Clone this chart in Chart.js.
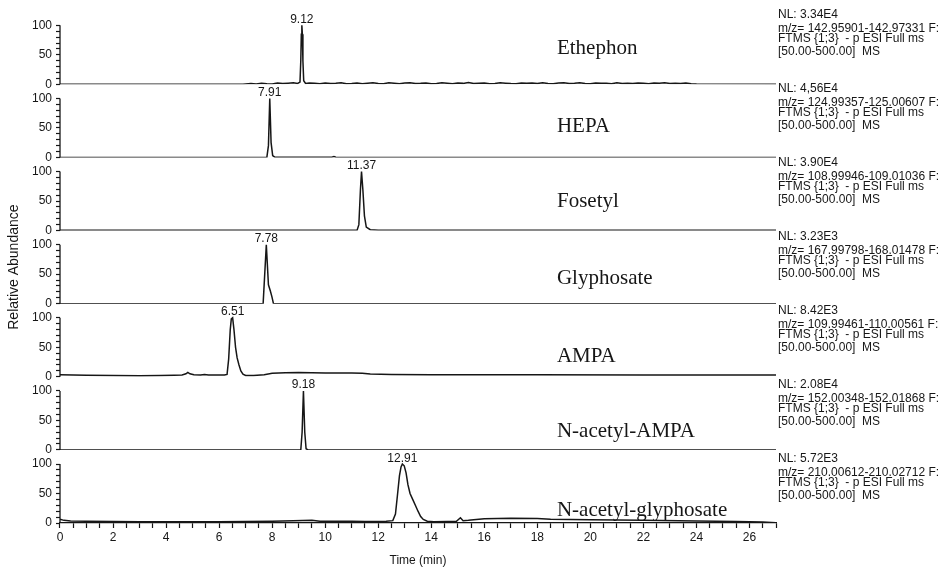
<!DOCTYPE html>
<html>
<head>
<meta charset="utf-8">
<title>Extracted ion chromatograms</title>
<script src="https://cdn.jsdelivr.net/npm/chart.js@4/dist/chart.umd.min.js"></script>
<style>
  html, body { margin: 0; padding: 0; background: #ffffff; }
  #wrap { position: relative; width: 946px; height: 568px; }
</style>
</head>
<body>
<div id="wrap"><canvas id="chrom" width="946" height="568"></canvas></div>
<script>
// ---- Data -------------------------------------------------------------
const compounds = ['Ethephon', 'HEPA', 'Fosetyl', 'Glyphosate', 'AMPA', 'N-acetyl-AMPA', 'N-acetyl-glyphosate'];
const peakTimes = [9.12, 7.91, 11.37, 7.78, 6.51, 9.18, 12.91];
const normLevels = ['NL: 3.34E4', 'NL: 4,56E4', 'NL: 3.90E4', 'NL: 3.23E3', 'NL: 8.42E3', 'NL: 2.08E4', 'NL: 5.72E3'];
const mzRanges = ['142.95901-142.97331', '124.99357-125.00607', '108.99946-109.01036', '167.99798-168.01478',
                  '109.99461-110.00561', '152.00348-152.01868', '210.00612-210.02712'];
const scanFilter = 'FTMS {1;3}  - p ESI Full ms';
const massRange = '[50.00-500.00]  MS';
const abundanceTicks = [0, 50, 100];
const timeLabelStep = 2;

// retention time (min) / relative abundance (%) for each trace
const ethephonTime = [0, 6.9, 7.0, 7.2, 7.4, 7.6, 7.8, 8.0, 8.2, 8.4, 8.6, 8.8, 8.96, 9.05, 9.08, 9.10, 9.12, 9.14, 9.16, 9.19, 9.26,
  9.4, 9.6, 9.8, 10.0, 10.2, 10.4, 10.6, 10.8, 11.0, 11.2, 11.4, 11.6, 11.8, 12.0, 12.2, 12.4, 12.6, 12.8, 13.0, 13.2,
  13.4, 13.6, 13.8, 14.0, 14.2, 14.4, 14.6, 14.8, 15.0, 15.2, 15.4, 15.6, 15.8, 16.0, 16.2, 16.4, 16.6, 16.8, 17.0,
  17.2, 17.4, 17.6, 17.8, 18.0, 18.2, 18.4, 18.6, 18.8, 19.0, 19.2, 19.4, 19.6, 19.8, 20.0, 20.2, 20.4, 20.6, 20.8,
  21.0, 21.2, 21.4, 21.6, 21.8, 22.0, 22.2, 22.4, 22.6, 22.8, 23.0, 23.2, 23.4, 23.6, 23.8, 24.0, 27];
const ethephonAbund = [0, 0, 0.5, 1.4, 0.7, 2.0, 1.1, 0.6, 2.3, 1.2, 1.9, 2.6, 1.5, 3.8, 40, 85, 100, 85, 40, 6, 1.4,
  2.2, 1.6, 0.9, 2.4, 1.3, 1.8, 2.7, 1.0, 1.5, 2.3, 0.8, 1.9, 2.6, 1.4, 1.1, 2.5, 1.7, 0.9,
  2.1, 2.8, 1.3, 1.6, 2.2, 0.8, 1.4, 2.6, 1.9, 1.1, 2.4, 1.6, 2.9, 1.2, 1.8, 2.3, 1.0, 1.5,
  2.7, 2.0, 1.2, 0.9, 2.4, 1.7, 2.2, 1.3, 2.8, 1.5, 1.0, 2.1, 2.5, 1.2, 1.8, 2.6, 1.4, 0.9,
  2.3, 1.6, 2.0, 1.1, 2.7, 1.5, 1.9, 1.2, 2.4, 1.7, 1.0, 2.2, 1.6, 2.5, 1.3, 2.0, 1.4, 2.3, 1.1,
  0.4, 0.2];

const hepaTime  = [0, 7.8, 7.86, 7.91, 7.96, 8.02, 8.1, 10.25, 10.33, 10.4, 27];
const hepaAbund = [0, 0, 20, 100, 25, 3, 0.5, 0.3, 1.6, 0.3, 0];

const fosetylTime  = [0, 11.2, 11.27, 11.33, 11.37, 11.42, 11.48, 11.55, 11.7, 12.0, 27];
const fosetylAbund = [0.3, 0.3, 10, 70, 100, 70, 25, 6, 1.5, 0.6, 0.3];

const glyphosateTime  = [0, 7.66, 7.78, 7.86, 7.93, 7.99, 8.05, 27];
const glyphosateAbund = [0, 0, 100, 32, 22, 12, 0, 0];

const ampaTime  = [0, 0.5, 1, 2, 3, 3.8, 4.3, 4.6, 4.75, 4.82, 4.9, 5.05, 5.3, 5.45, 5.6, 6.2, 6.3, 6.36, 6.42, 6.46,
  6.51, 6.56, 6.62, 6.68, 6.75, 6.82, 6.9, 7.0, 7.3, 7.7, 8.0, 8.5, 9.0, 9.5, 10, 11, 11.4, 11.7, 12.5, 14, 18, 22, 27];
const ampaAbund = [3.5, 2.8, 2.4, 2.0, 1.8, 2.0, 2.6, 3.2, 5, 7.5, 5, 3.5, 3.2, 4, 3.0, 3.0, 4, 30, 80, 98,
  100, 80, 50, 32, 20, 10, 4.5, 2.2, 2.2, 3.5, 6, 7, 7.3, 7, 6.5, 6.3, 6, 4.5, 3.8, 3.5, 3.3, 3.1, 3.0];

const acetylAmpaTime  = [0, 9.08, 9.13, 9.18, 9.23, 9.28, 9.35, 27];
const acetylAmpaAbund = [0, 0, 30, 100, 30, 2, 0, 0];

const acetylGlyTime  = [0, 0.15, 0.4, 1, 2, 3, 4, 5, 6, 7, 8, 8.8, 9.5, 9.8, 10.5, 11, 11.5, 12.3, 12.55, 12.65,
  12.72, 12.8, 12.86, 12.91, 12.98, 13.05, 13.12, 13.2, 13.3, 13.4, 13.5, 13.6, 13.7, 13.85, 14.1, 14.6, 14.95,
  15.1, 15.2, 15.4, 16, 17, 18, 18.5, 20, 22, 24, 25.5, 26.5, 27];
const acetylGlyAbund = [6.5, 4.5, 3.3, 2.8, 2.5, 2.3, 2.2, 2.2, 2.3, 2.5, 3, 4, 4.5, 3, 2.8, 3, 2.6, 2.8, 4, 15,
  45, 80, 95, 100, 97, 85, 65, 50, 40, 30, 20, 11, 6, 3, 2, 2.5, 3,
  9, 4, 4.5, 7, 8, 7.8, 6.5, 5.5, 4.5, 3.5, 2.5, 1.5, 0.5];

const traceTimes = [ethephonTime, hepaTime, fosetylTime, glyphosateTime, ampaTime, acetylAmpaTime, acetylGlyTime];
const traceAbund = [ethephonAbund, hepaAbund, fosetylAbund, glyphosateAbund, ampaAbund, acetylAmpaAbund, acetylGlyAbund];

// ---- Layout / style ---------------------------------------------------
const INK = '#161616';
const SANS = '"Liberation Sans", Arial, Helvetica, sans-serif';
const SERIF = '"Liberation Serif", "Times New Roman", Times, serif';
const NAME_TIME = 18.74;                              // left edge of compound names (min)
const nameLevels = [61, 53, 49, 42, 34, 32, 22];      // vertical centre of the names (% axis)
const PANEL_TOP = 124;                                 // headroom above 100 % in each strip

// ---- Build datasets and stacked abundance axes ------------------------
const datasets = compounds.map((name, i) => ({
  label: name,
  yAxisID: 'y' + i,
  data: traceTimes[i].map((t, j) => ({ x: t, y: traceAbund[i][j] })),
  borderColor: INK,
  borderWidth: 1.5,
  pointRadius: 0,
  tension: 0,
  fill: false
}));

const scales = {
  x: {
    type: 'linear',
    position: 'bottom',
    min: 0,
    max: 27,
    afterFit: s => { s.height = 45; },
    border: { display: true, color: INK, width: 1.3 },
    grid: { drawOnChartArea: false, drawTicks: true, tickLength: 5, tickColor: INK, tickWidth: 1.2 },
    ticks: {
      stepSize: 0.5,
      autoSkip: false,
      maxRotation: 0,
      padding: 2,
      color: INK,
      font: { family: SANS, size: 12 },
      callback: v => (v % timeLabelStep === 0 ? String(v) : '')
    },
    title: { display: true, text: 'Time (min)', color: INK, font: { family: SANS, size: 12 }, padding: { top: 0, bottom: 0 } }
  }
};

compounds.forEach((name, i) => {
  scales['y' + i] = {
    type: 'linear',
    position: 'left',
    stack: 'strips',
    stackWeight: 1,
    weight: compounds.length - i,
    min: 0,
    max: PANEL_TOP,
    afterFit: s => { s.width = 60; },
    afterBuildTicks: s => { s.ticks = s.ticks.filter(t => t.value <= 100); },
    border: { display: false },
    grid: { drawOnChartArea: false, drawTicks: true, tickLength: 4, tickColor: INK, tickWidth: 1.2 },
    ticks: {
      stepSize: 10,
      autoSkip: false,
      padding: 4,
      color: INK,
      font: { family: SANS, size: 12 },
      callback: v => (abundanceTicks.includes(v) ? String(v) : '')
    },
    title: {
      display: i === 3,
      text: 'Relative Abundance',
      color: INK,
      font: { family: SANS, size: 14 },
      padding: { top: 6, bottom: 0 }
    }
  };
});

// Spines (0-100 only), peak labels, compound names and scan annotations
const stripDecor = {
  id: 'stripDecor',
  afterDraw(chart) {
    const ctx = chart.ctx;
    const xs = chart.scales.x;
    ctx.save();
    compounds.forEach((name, i) => {
      const ys = chart.scales['y' + i];
      const y0 = ys.getPixelForValue(0);
      const y100 = ys.getPixelForValue(100);

      ctx.strokeStyle = INK;
      ctx.lineWidth = 1.3;
      ctx.beginPath();
      ctx.moveTo(xs.left, y0);
      ctx.lineTo(xs.left, y100);
      ctx.stroke();

      ctx.fillStyle = INK;
      ctx.font = '12px ' + SANS;
      ctx.textAlign = 'center';
      ctx.textBaseline = 'alphabetic';
      ctx.fillText(peakTimes[i].toFixed(2), xs.getPixelForValue(peakTimes[i]), y100 - 2.5);

      ctx.font = '21px ' + SERIF;
      ctx.textAlign = 'left';
      ctx.textBaseline = 'middle';
      ctx.fillText(name, xs.getPixelForValue(NAME_TIME), ys.getPixelForValue(nameLevels[i]));

      const bx = xs.right + 2;
      const by = 15 + 74 * i;
      ctx.font = '12px ' + SANS;
      ctx.fillText(normLevels[i], bx, by);
      ctx.fillText('m/z= ' + mzRanges[i] + ' F:', bx, by + 14);
      ctx.fillText(scanFilter, bx, by + 23.5);
      ctx.fillText(massRange, bx, by + 37);
    });
    ctx.restore();
  }
};

new Chart(document.getElementById('chrom'), {
  type: 'line',
  data: { datasets },
  options: {
    responsive: false,
    devicePixelRatio: 1,
    animation: false,
    layout: { padding: { left: 0, right: 170, top: 11, bottom: 0 } },
    plugins: { legend: { display: false }, tooltip: { enabled: false } },
    scales
  },
  plugins: [stripDecor]
});
</script>
</body>
</html>
